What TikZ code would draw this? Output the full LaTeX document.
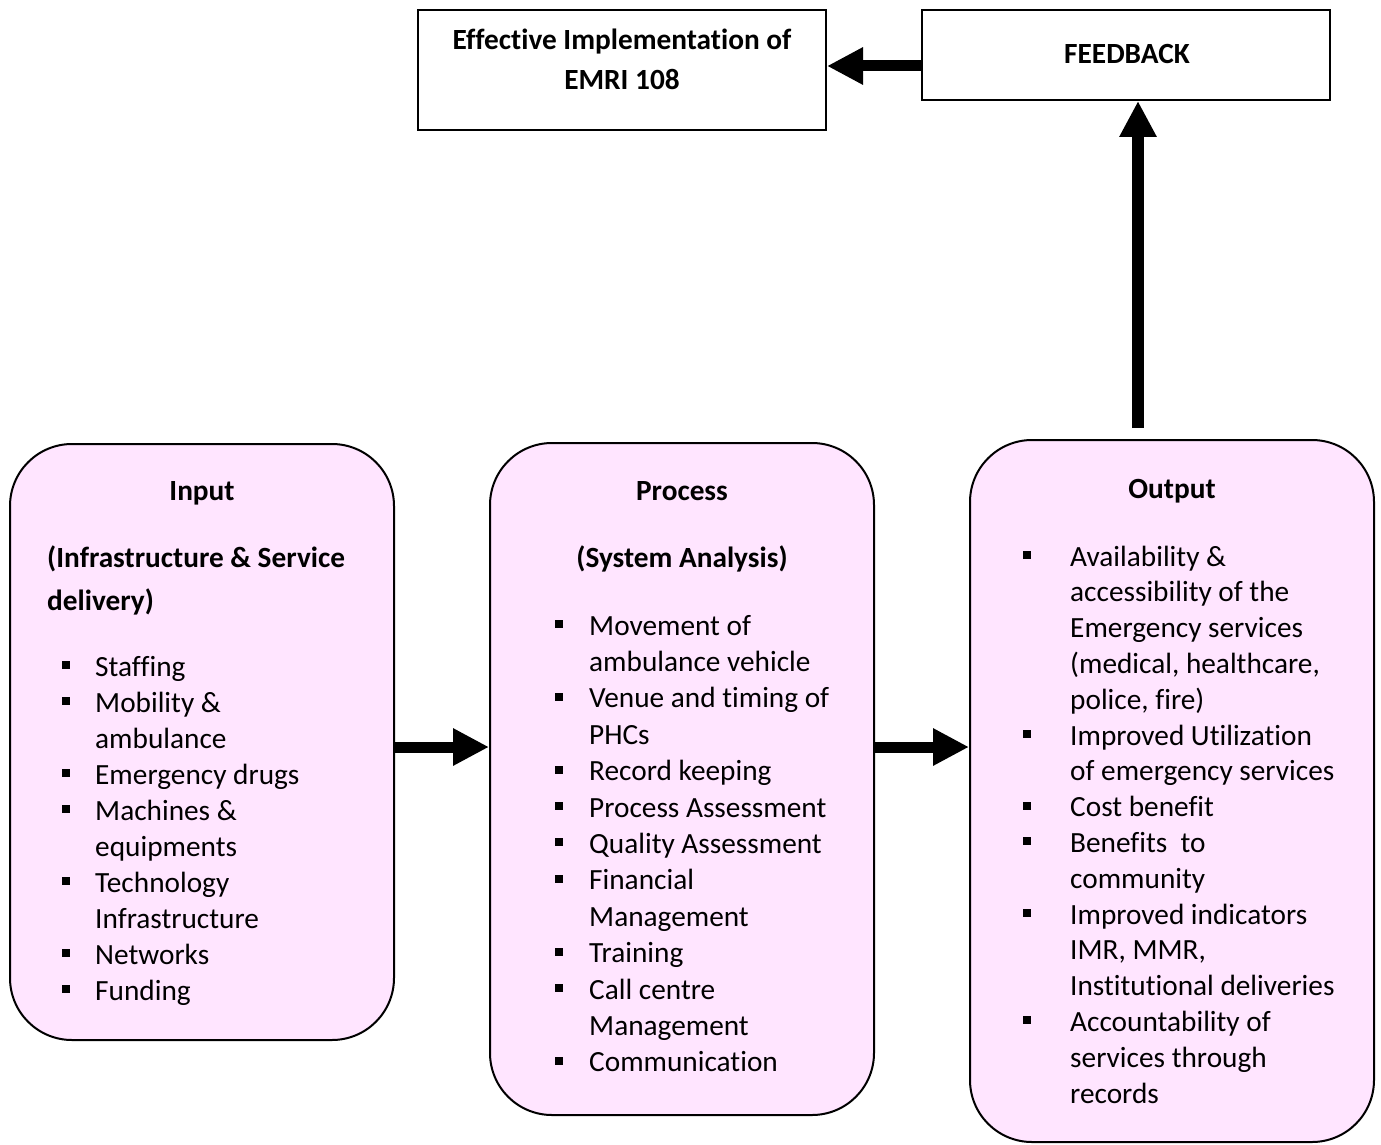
\documentclass[tikz,border=0pt]{standalone}
\usepackage{fontspec}
\setmainfont{Carlito}[Ligatures=NoCommon]
\usetikzlibrary{arrows.meta}
\definecolor{boxpink}{RGB}{255,229,255}
\newcommand\sqb{\rule[7pt]{8pt}{8pt}}
\newcommand\fsz[1]{\fontsize{29.3}{#1}\selectfont}
\begin{document}
\begin{tikzpicture}[x=1pt,y=-1pt,
  plainbox/.style={draw,line width=2pt,rectangle,inner sep=0,fill=white},
  roundbox/.style={draw,line width=2pt,rectangle,rounded corners=62pt,fill=boxpink,inner sep=0},
  txt/.style={inner sep=0,anchor=base,font=\fsz{36}},
  btxt/.style={inner sep=0,anchor=base,font=\fsz{36}\bfseries},
  lst/.style={inner sep=0,anchor=base west},
  bigarrow/.style={line width=11pt,-{Triangle[width=35pt,length=36pt]}}]
\useasboundingbox (0,0) rectangle (1381,1145);
% boxes
\node[plainbox,minimum width=408pt,minimum height=120pt] (eff) at (622,70) {};
\node[plainbox,minimum width=408pt,minimum height=90pt] (fb) at (1126,55) {};
\node[roundbox,minimum width=384pt,minimum height=596pt] (in) at (202,742) {};
\node[roundbox,minimum width=384pt,minimum height=672pt] (proc) at (682,779) {};
\node[roundbox,minimum width=404pt,minimum height=702pt] (out) at (1172,791) {};
% top texts
\node[btxt] (effA) at (622,50) {Effective Implementation of};
\node[btxt] (effB) at (622,90) {EMRI 108};
\node[btxt] (fbT) at (1127,64) {FEEDBACK};
% input
\node[btxt] (inT) at (202,500) {Input};
\node[btxt,anchor=base west] (inS1) at (47,567) {(Infrastructure \& Service};
\node[btxt,anchor=base west] (inS2) at (47,610) {delivery)};
\node[lst] (inL) at (62,676) {\fsz{36}\begin{tabular}[t]{@{}l@{\hspace{25pt}}l@{}}
\sqb & Staffing\\
\sqb & Mobility \&\\
 & ambulance\\
\sqb & Emergency drugs\\
\sqb & Machines \&\\
 & equipments\\
\sqb & Technology\\
 & Infrastructure\\
\sqb & Networks\\
\sqb & Funding
\end{tabular}};
% process
\node[btxt] (procT) at (682,500) {Process};
\node[btxt] (procS) at (682,567) {(System Analysis)};
\node[lst] (procL) at (555,635) {\fsz{36.4}\begin{tabular}[t]{@{}l@{\hspace{26pt}}l@{}}
\sqb & Movement of\\
 & ambulance vehicle\\
\sqb & Venue and timing of\\
 & PHCs\\
\sqb & Record keeping\\
\sqb & Process Assessment\\
\sqb & Quality Assessment\\
\sqb & Financial\\
 & Management\\
\sqb & Training\\
\sqb & Call centre\\
 & Management\\
\sqb & Communication
\end{tabular}};
% output
\node[btxt] (outT) at (1172,498) {Output};
\node[lst] (outL) at (1023,566) {\fsz{35.8}\begin{tabular}[t]{@{}l@{\hspace{39pt}}l@{}}
\sqb & Availability \&\\
 & accessibility of the\\
 & Emergency services\\
 & (medical, healthcare,\\
 & police, fire)\\
\sqb & Improved Utilization\\
 & of emergency services\\
\sqb & Cost benefit\\
\sqb & Benefits\ \ to\\
 & community\\
\sqb & Improved indicators\\
 & IMR, MMR,\\
 & Institutional deliveries\\
\sqb & Accountability of\\
 & services through\\
 & records
\end{tabular}};
% arrows
\coordinate (ymid) at (0,747);
\coordinate (yfb) at (0,66);
\coordinate (xup) at (1138,0);
\coordinate (upstart) at (1138,428);
\draw[bigarrow] (in.east |- ymid) -- (proc.west |- ymid);
\draw[bigarrow] (proc.east |- ymid) -- (out.west |- ymid);
\draw[bigarrow] (fb.west |- yfb) -- (eff.east |- yfb);
\draw[bigarrow,line width=12pt] (upstart) -- (xup |- fb.south);
\end{tikzpicture}
\end{document}
